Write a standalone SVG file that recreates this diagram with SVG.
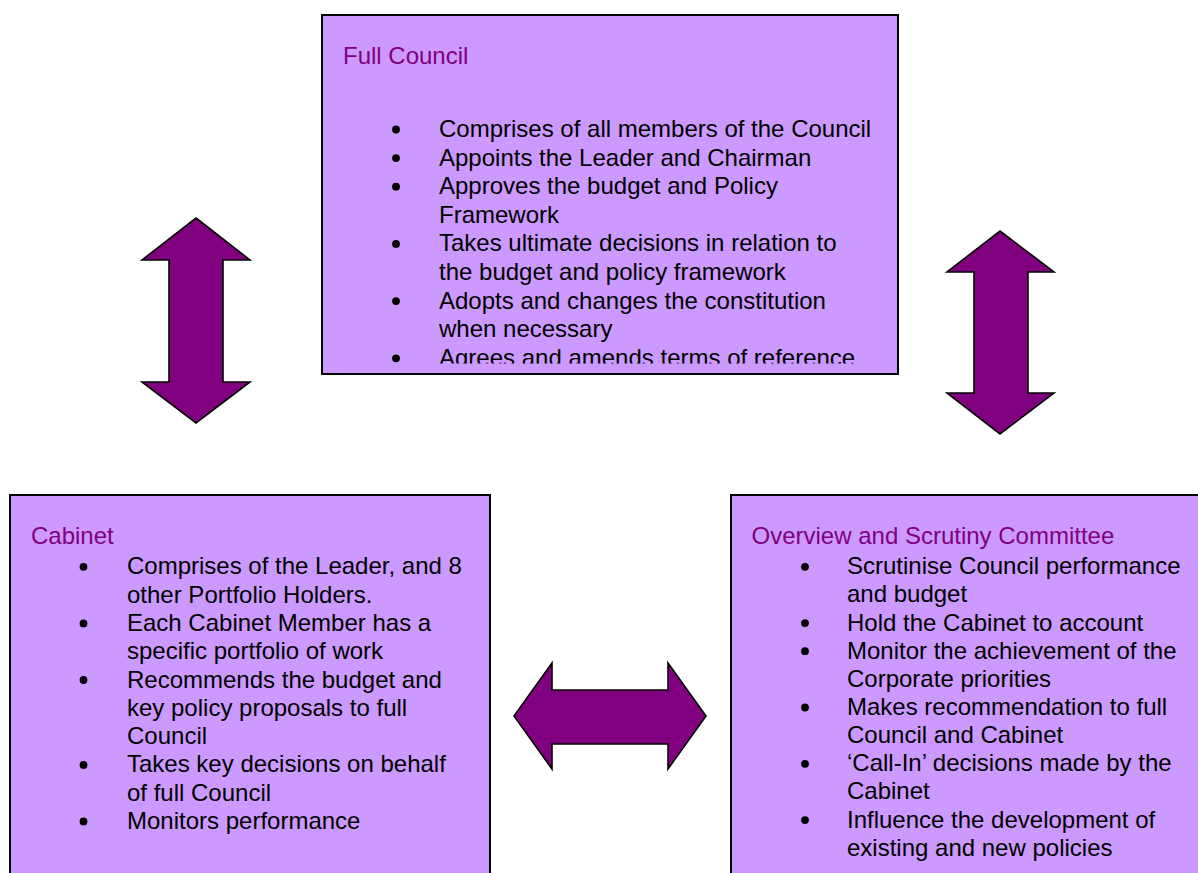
<svg xmlns="http://www.w3.org/2000/svg" width="1198" height="873" viewBox="0 0 1198 873">
  <style>
    .box { fill: #CC99FF; stroke: #000000; stroke-width: 2; }
    .title { font-family: "Liberation Sans", Arial, sans-serif; font-size: 24px; fill: #800080; }
    .item { font-family: "Liberation Sans", Arial, sans-serif; font-size: 24px; fill: #000000; }
    .dot { fill: #000000; }
    .arrow { fill: #800080; stroke: #000000; stroke-width: 1.6; stroke-linejoin: miter; }
  </style>
  <defs>
    <clipPath id="councilClip">
      <rect x="323" y="16" width="574" height="347.5"/>
    </clipPath>
  </defs>
  <rect width="1198" height="873" fill="#FFFFFF"/>

  <!-- Full Council -->
  <g id="full-council">
    <rect class="box" x="322" y="15" width="576" height="359"/>
    <text class="title" x="343" y="64">Full Council</text>
    <g clip-path="url(#councilClip)">
      <g class="dot">
        <circle cx="396" cy="129.5" r="3.9"/>
        <circle cx="396" cy="158.1" r="3.9"/>
        <circle cx="396" cy="186.7" r="3.9"/>
        <circle cx="396" cy="243.9" r="3.9"/>
        <circle cx="396" cy="301.1" r="3.9"/>
        <circle cx="396" cy="358.3" r="3.9"/>
      </g>
      <text class="item" x="439" y="137">Comprises of all members of the Council</text>
      <text class="item" x="439" y="165.6">Appoints the Leader and Chairman</text>
      <text class="item" x="439" y="194.2">Approves the budget and Policy</text>
      <text class="item" x="439" y="222.8">Framework</text>
      <text class="item" x="439" y="251.4">Takes ultimate decisions in relation to</text>
      <text class="item" x="439" y="280">the budget and policy framework</text>
      <text class="item" x="439" y="308.6">Adopts and changes the constitution</text>
      <text class="item" x="439" y="337.2">when necessary</text>
      <text class="item" x="439" y="365.8">Agrees and amends terms of reference</text>
    </g>
  </g>

  <!-- Cabinet -->
  <g id="cabinet">
    <rect class="box" x="10" y="495" width="480" height="400"/>
    <text class="title" x="31" y="544">Cabinet</text>
    <g class="dot">
      <circle cx="83.5" cy="566.8" r="3.9"/>
      <circle cx="83.5" cy="623.4" r="3.9"/>
      <circle cx="83.5" cy="680" r="3.9"/>
      <circle cx="83.5" cy="764.9" r="3.9"/>
      <circle cx="83.5" cy="821.5" r="3.9"/>
    </g>
    <text class="item" x="127" y="574.3">Comprises of the Leader, and 8</text>
    <text class="item" x="127" y="602.6">other Portfolio Holders.</text>
    <text class="item" x="127" y="630.9">Each Cabinet Member has a</text>
    <text class="item" x="127" y="659.2">specific portfolio of work</text>
    <text class="item" x="127" y="687.5">Recommends the budget and</text>
    <text class="item" x="127" y="715.8">key policy proposals to full</text>
    <text class="item" x="127" y="744.1">Council</text>
    <text class="item" x="127" y="772.4">Takes key decisions on behalf</text>
    <text class="item" x="127" y="800.7">of full Council</text>
    <text class="item" x="127" y="829">Monitors performance</text>
  </g>

  <!-- Overview and Scrutiny Committee -->
  <g id="overview-scrutiny">
    <rect class="box" x="731" y="495" width="480" height="400"/>
    <text class="title" x="751.5" y="544">Overview and Scrutiny Committee</text>
    <g class="dot">
      <circle cx="805" cy="566.8" r="3.9"/>
      <circle cx="805" cy="623.1" r="3.9"/>
      <circle cx="805" cy="651.2" r="3.9"/>
      <circle cx="805" cy="707.5" r="3.9"/>
      <circle cx="805" cy="763.8" r="3.9"/>
      <circle cx="805" cy="820.1" r="3.9"/>
    </g>
    <text class="item" x="847" y="574.3">Scrutinise Council performance</text>
    <text class="item" x="847" y="602.4">and budget</text>
    <text class="item" x="847" y="630.6">Hold the Cabinet to account</text>
    <text class="item" x="847" y="658.7">Monitor the achievement of the</text>
    <text class="item" x="847" y="686.9">Corporate priorities</text>
    <text class="item" x="847" y="715">Makes recommendation to full</text>
    <text class="item" x="847" y="743.1">Council and Cabinet</text>
    <text class="item" x="847" y="771.3">‘Call-In’ decisions made by the</text>
    <text class="item" x="847" y="799.4">Cabinet</text>
    <text class="item" x="847" y="827.6">Influence the development of</text>
    <text class="item" x="847" y="855.7">existing and new policies</text>
  </g>

  <!-- Two-way arrows between the bodies -->
  <g id="connectors">
    <polygon class="arrow" points="196,218 250,260 223,260 223,382 250,382 196,423 142,382 169,382 169,260 142,260"/>
    <polygon class="arrow" points="1000,231 1054,272 1028,272 1028,393 1054,393 1000,434 947,393 974,393 974,272 947,272"/>
    <polygon class="arrow" points="514,716 552,663 552,690 668,690 668,663 706,716 668,769 668,744 552,744 552,769"/>
  </g>
</svg>
